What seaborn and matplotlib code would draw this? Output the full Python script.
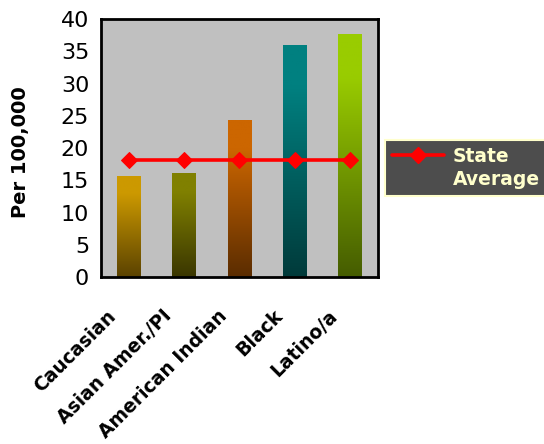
import numpy as np
import pandas as pd
import matplotlib
matplotlib.use("Agg")
import matplotlib.pyplot as plt
import seaborn as sns
from matplotlib.colors import LinearSegmentedColormap
from matplotlib.lines import Line2D

groups = ["Caucasian", "Asian Amer./PI", "American Indian", "Black", "Latino/a"]
rates = [15.7, 16.1, 24.3, 36.0, 37.7]
state_average = [18.2, 18.2, 18.2, 18.2, 18.2]
top_colors = ["#CC9900", "#808000", "#CC6600", "#008080", "#99CC00"]
bottom_colors = ["#5A4200", "#3A3600", "#5A2C00", "#003A3A", "#455C00"]
y_ticks = [0, 5, 10, 15, 20, 25, 30, 35, 40]

sns.set_theme(style="white")
plt.rcParams["font.family"] = ["DejaVu Sans"]
plt.rcParams["text.color"] = "black"
plt.rcParams["axes.labelcolor"] = "black"
plt.rcParams["xtick.color"] = "black"
plt.rcParams["ytick.color"] = "black"

fig = plt.figure(figsize=(5.44, 4.44), dpi=100)
ax = fig.add_axes([0.1857, 0.376, 0.509, 0.581])
ax.set_facecolor("#C0C0C0")

df = pd.DataFrame({"group": groups, "rate": rates})
sns.barplot(data=df, x="group", y="rate", hue="group", palette=top_colors,
            width=0.43, legend=False, ax=ax, saturation=1)

# vertical gradient fill inside each bar (dark at the base, full colour near the top)
grad = np.linspace(0, 1, 256).reshape(-1, 1)
for patch, c_top, c_bot in zip(ax.patches, top_colors, bottom_colors):
    x0, y0 = patch.get_x(), patch.get_y()
    w, h = patch.get_width(), patch.get_height()
    cmap = LinearSegmentedColormap.from_list(
        "bar", [(0.0, c_bot), (0.82, c_top), (1.0, c_top)])
    im = ax.imshow(grad, cmap=cmap, origin="lower", aspect="auto",
                   extent=[x0, x0 + w, y0, y0 + h], zorder=patch.get_zorder() + 0.1)
    im.set_clip_path(patch)
    patch.set_edgecolor("none")

sns.lineplot(x=list(range(len(groups))), y=state_average, ax=ax, color="#FF0000",
             lw=2.6, marker="D", markersize=8, markeredgecolor="#FF0000", zorder=5)

ax.set_xlim(-0.5, len(groups) - 0.5)
ax.set_ylim(0, 40)
ax.set_yticks(y_ticks)
ax.set_yticklabels([str(v) for v in y_ticks], fontsize=16, color="black")

# boundary ticks between categories; the slanted names sit just left of each centre
ax.set_xticks(np.arange(-0.5, len(groups)))
ax.set_xticklabels([])
ax.set_xticks(np.arange(len(groups)) - 0.4, minor=True)
ax.set_xticklabels(groups, minor=True, rotation=45, ha="right",
                   rotation_mode="anchor", fontsize=13.5, fontweight="bold", color="black")
ax.tick_params(axis="x", which="minor", length=0, pad=21)
ax.tick_params(axis="x", which="major", direction="inout", length=11, width=2, color="black")
ax.tick_params(axis="y", direction="inout", length=11, width=2, color="black", pad=3)
ax.set_xlabel("")
ax.set_ylabel("Per 100,000", fontsize=14, fontweight="bold", color="black")
ax.yaxis.set_label_coords(-0.256, 0.485)
for s in ax.spines.values():
    s.set_visible(True)
    s.set_color("black")
    s.set_linewidth(2)

handles = [Line2D([], [], color="#FF0000", lw=2.6, marker="D", markersize=8),
           Line2D([], [], alpha=0)]
leg = fig.legend(handles, ["State", "Average"], loc="upper left",
                 bbox_to_anchor=(385 / 544, 1 - 140 / 444), frameon=True, fancybox=False,
                 handlelength=2.8, handletextpad=0.45, borderpad=0.35, labelspacing=0.25,
                 borderaxespad=0, prop={"weight": "bold", "size": 13.5})
frame = leg.get_frame()
frame.set_facecolor("#4D4D4D")
frame.set_edgecolor("#FFFFCC")
frame.set_linewidth(1.5)
frame.set_alpha(1)
for t in leg.get_texts():
    t.set_color("#FFFFCC")

fig.savefig("out.png", dpi=100, facecolor="white")
